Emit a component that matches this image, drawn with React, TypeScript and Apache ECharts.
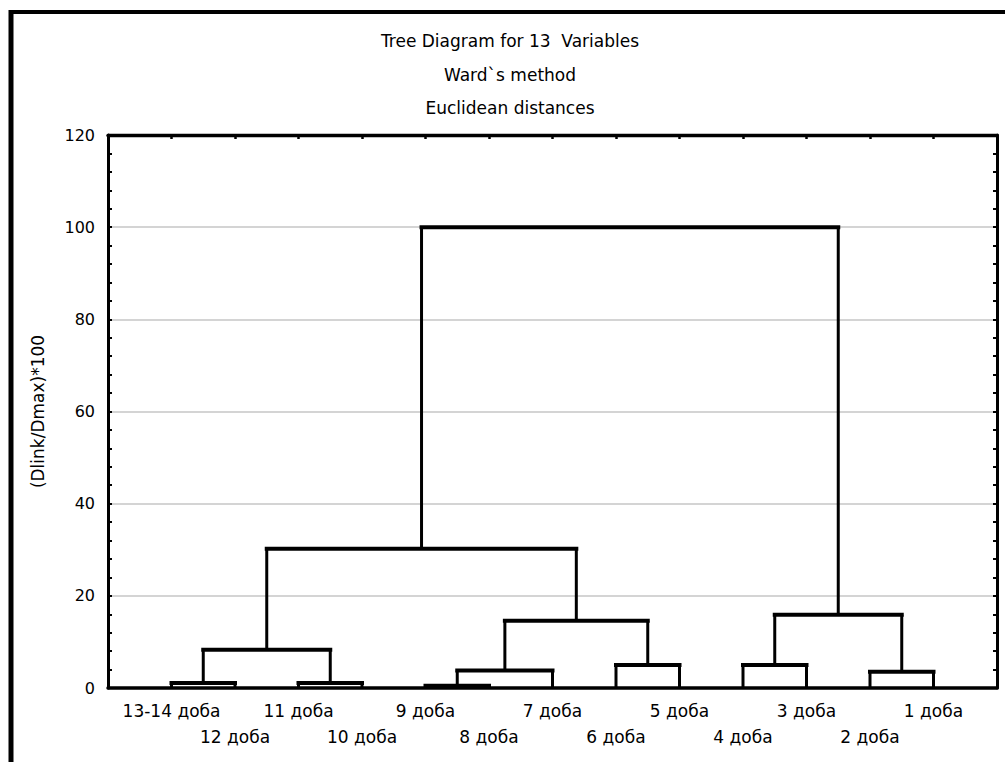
import React, { useEffect, useRef } from "react";
import * as echarts from "echarts";

// Leaf variables, left to right along the bottom axis
const leafLabels = [
  "13-14 доба",
  "12 доба",
  "11 доба",
  "10 доба",
  "9 доба",
  "8 доба",
  "7 доба",
  "6 доба",
  "5 доба",
  "4 доба",
  "3 доба",
  "2 доба",
  "1 доба",
];

// Agglomeration steps: node ids 0..12 are leaves, 13 + k is the cluster created at step k
const mergeLeft = [4, 0, 2, 11, 13, 7, 9, 14, 17, 19, 20, 23];
const mergeRight = [5, 1, 3, 12, 6, 8, 10, 15, 18, 16, 21, 22];
// Linkage distance (Dlink/Dmax)*100 of each step
const mergeHeight = [0.5, 1.1, 1.1, 3.5, 3.8, 5.0, 5.0, 8.3, 14.6, 15.9, 30.2, 100];

const titleLines = ["Tree Diagram for 13  Variables", "Ward`s method", "Euclidean distances"];
const yTitle = "(Dlink/Dmax)*100";

const FONT = "DejaVu Sans, Arial, sans-serif";

// Build link segments: each node sits halfway between its two children
function buildLinks() {
  const nodeX: number[] = leafLabels.map((_, i) => i + 1);
  const nodeH: number[] = leafLabels.map(() => 0);
  const links: number[][] = [];
  mergeHeight.forEach((h, k) => {
    const a = mergeLeft[k];
    const b = mergeRight[k];
    links.push([nodeX[a], nodeH[a], nodeX[b], nodeH[b], h]);
    nodeX.push((nodeX[a] + nodeX[b]) / 2);
    nodeH.push(h);
  });
  return links;
}

export default function App() {
  const ref = useRef<HTMLDivElement>(null);

  useEffect(() => {
    if (!ref.current) return;
    const chart = echarts.init(ref.current, null, { renderer: "svg" });
    const links = buildLinks();
    const n = leafLabels.length;

    const option: any = {
      animation: false,
      backgroundColor: "#ffffff",
      grid: { left: 108, right: 8, top: 135, bottom: 74 },
      graphic: [
        // outer frame (left and top edges)
        {
          type: "line",
          shape: { x1: 11, y1: 10, x2: 11, y2: 770 },
          style: { stroke: "#000", lineWidth: 5 },
          silent: true,
        },
        {
          type: "line",
          shape: { x1: 9, y1: 12, x2: 1010, y2: 12 },
          style: { stroke: "#000", lineWidth: 4 },
          silent: true,
        },
        ...titleLines.map((t, i) => ({
          type: "text",
          x: 510,
          y: 41 + i * 33.5,
          style: {
            text: t,
            fill: "#000",
            font: `17px ${FONT}`,
            textAlign: "center",
            textVerticalAlign: "middle",
          },
          silent: true,
        })),
      ],
      xAxis: [
        {
          type: "value",
          position: "bottom",
          min: 0,
          max: n + 1,
          interval: 1,
          axisLine: { show: true, onZero: false, lineStyle: { color: "#000", width: 3.5 } },
          axisTick: { show: false },
          splitLine: { show: false },
          axisLabel: {
            margin: 10,
            fontSize: 17,
            fontFamily: FONT,
            color: "#000",
            lineHeight: 26,
            formatter: (v: number) => {
              const i = Math.round(v) - 1;
              if (i < 0 || i >= n) return "";
              return i % 2 === 0 ? leafLabels[i] : "\n" + leafLabels[i];
            },
          },
        },
        {
          type: "value",
          position: "top",
          min: 0,
          max: n + 1,
          interval: 1,
          axisLine: { show: true, onZero: false, lineStyle: { color: "#000", width: 3.4 } },
          axisTick: { show: true, inside: true, length: 4, lineStyle: { color: "#000", width: 2.5 } },
          axisLabel: { show: false },
          splitLine: { show: false },
        },
      ],
      yAxis: [
        {
          type: "value",
          position: "left",
          min: 0,
          max: 120,
          interval: 20,
          name: yTitle,
          nameLocation: "middle",
          nameRotate: 90,
          nameGap: 62,
          nameTextStyle: { fontSize: 17, fontFamily: FONT, color: "#000" },
          axisLine: { show: true, onZero: false, lineStyle: { color: "#000", width: 3 } },
          axisTick: { show: true, inside: true, length: 4, lineStyle: { color: "#000", width: 2 } },
          minorTick: { show: true, splitNumber: 5, length: 4, lineStyle: { color: "#000", width: 2 } },
          splitLine: { show: true, lineStyle: { color: "#d4d4d4", width: 2 } },
          axisLabel: { margin: 13, fontSize: 16, fontFamily: FONT, color: "#000" },
        },
        {
          type: "value",
          position: "right",
          min: 0,
          max: 120,
          interval: 20,
          axisLine: { show: true, onZero: false, lineStyle: { color: "#000", width: 3 } },
          axisTick: { show: true, inside: true, length: 4, lineStyle: { color: "#000", width: 2 } },
          minorTick: { show: true, splitNumber: 5, length: 4, lineStyle: { color: "#000", width: 2 } },
          splitLine: { show: false },
          axisLabel: { show: false },
        },
      ],
      series: [
        {
          type: "custom",
          xAxisIndex: 0,
          yAxisIndex: 0,
          clip: false,
          data: links,
          renderItem: (params: any, api: any) => {
            const xl = api.value(0);
            const hl = api.value(1);
            const xr = api.value(2);
            const hr = api.value(3);
            const h = api.value(4);
            const pl0 = api.coord([xl, hl]);
            const pl1 = api.coord([xl, h]);
            const pr0 = api.coord([xr, hr]);
            const pr1 = api.coord([xr, h]);
            const vStyle = { stroke: "#000", lineWidth: 3 };
            return {
              type: "group",
              children: [
                { type: "line", shape: { x1: pl0[0], y1: pl0[1], x2: pl1[0], y2: pl1[1] }, style: vStyle },
                { type: "line", shape: { x1: pr0[0], y1: pr0[1], x2: pr1[0], y2: pr1[1] }, style: vStyle },
                {
                  type: "line",
                  shape: { x1: pl1[0], y1: pl1[1], x2: pr1[0], y2: pr1[1] },
                  style: { stroke: "#000", lineWidth: 4, lineCap: "square" },
                },
              ],
            };
          },
        },
      ],
    };

    chart.setOption(option);
    return () => chart.dispose();
  }, []);

  return (
    <div
      ref={ref}
      style={{ position: "fixed", left: 0, top: 0, width: 1005, height: 762, background: "#fff" }}
    />
  );
}
